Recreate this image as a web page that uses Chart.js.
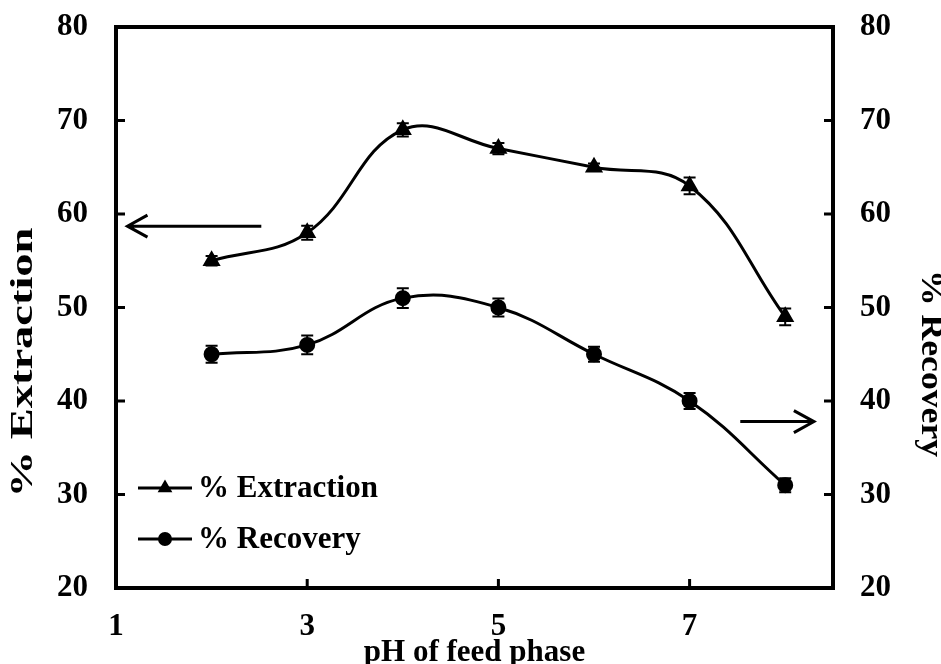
<!DOCTYPE html>
<html>
<head>
<meta charset="utf-8">
<title>pH of feed phase</title>
<script src="https://cdn.jsdelivr.net/npm/chart.js@4.4.1/dist/chart.umd.min.js"></script>
<style>
  html, body { margin: 0; padding: 0; background: #fff; }
  #wrap { width: 941px; height: 664px; }
</style>
</head>
<body>
<div id="wrap"><canvas id="phChart"></canvas></div>
<script>
// pH of feed phase vs. % extraction / % recovery
const phValues = [2, 3, 4, 5, 6, 7, 8];
const extraction = [55, 58, 69, 67, 65, 63, 49];
const extractionErr = [0.5, 0.75, 0.7, 0.6, 0.4, 0.9, 0.9];
const recovery = [45, 46, 51, 50, 45, 40, 31];
const recoveryErr = [0.9, 1.0, 1.05, 0.95, 0.8, 0.85, 0.75];
const xTicks = [1, 3, 5, 7];
const yTicks = [20, 30, 40, 50, 60, 70, 80];

const serif = '"Liberation Serif", "Times New Roman", serif';
const tickFont = { family: serif, size: 31, weight: 'bold' };

function toPoints(vals) {
  return vals.map((v, i) => ({ x: phValues[i], y: v }));
}

function arrow(ctx, x1, y1, x2, y2) {
  const dir = Math.sign(x2 - x1);
  ctx.beginPath();
  ctx.moveTo(x1, y1);
  ctx.lineTo(x2, y2);
  ctx.moveTo(x2 - dir * 20, y2 - 11);
  ctx.lineTo(x2, y2);
  ctx.lineTo(x2 - dir * 20, y2 + 11);
  ctx.stroke();
}

// vertical axis titles are drawn wide (stretched along the text direction)
function axisTitle(ctx, text, cx, cy, rot, stretch) {
  ctx.save();
  ctx.translate(cx, cy);
  ctx.rotate(rot);
  ctx.scale(stretch, 1);
  ctx.font = 'bold 31px ' + serif;
  ctx.textAlign = 'center';
  ctx.textBaseline = 'middle';
  ctx.fillStyle = '#000';
  ctx.fillText(text, 0, 0);
  ctx.restore();
}

// fixed axis box sizes so the plot frame lands in the same place
function fixY(width) {
  return s => {
    s.width = width;
    s.paddingTop = 0;
    s.paddingBottom = 0;
  };
}

// frame, inward ticks, error bars, arrows, axis titles and the inset legend
const extras = {
  id: 'extras',
  afterDatasetsDraw(chart) {
    const { ctx, chartArea: a, scales } = chart;
    const x = scales.x;
    ctx.save();
    ctx.strokeStyle = '#000';
    ctx.fillStyle = '#000';
    ctx.lineCap = 'butt';

    // error bars
    ctx.lineWidth = 2;
    chart.data.datasets.forEach(ds => {
      const yScale = scales[ds.yAxisID];
      ds.errors.forEach((e, i) => {
        const px = x.getPixelForValue(phValues[i]);
        const top = yScale.getPixelForValue(ds.data[i].y + e);
        const bot = yScale.getPixelForValue(ds.data[i].y - e);
        ctx.beginPath();
        ctx.moveTo(px, top); ctx.lineTo(px, bot);
        ctx.moveTo(px - 6, top); ctx.lineTo(px + 6, top);
        ctx.moveTo(px - 6, bot); ctx.lineTo(px + 6, bot);
        ctx.stroke();
      });
    });

    // frame
    ctx.lineWidth = 4;
    ctx.strokeRect(a.left, a.top, a.right - a.left, a.bottom - a.top);

    // tick marks pointing into the plot
    ctx.lineWidth = 3;
    ctx.beginPath();
    yTicks.forEach(v => {
      const py = scales.y.getPixelForValue(v);
      ctx.moveTo(a.left, py); ctx.lineTo(a.left + 9, py);
      const py2 = scales.y2.getPixelForValue(v);
      ctx.moveTo(a.right, py2); ctx.lineTo(a.right - 9, py2);
    });
    xTicks.forEach(v => {
      const px = x.getPixelForValue(v);
      ctx.moveTo(px, a.bottom); ctx.lineTo(px, a.bottom - 9);
    });
    ctx.stroke();

    // arrows pointing at each series' axis
    ctx.lineWidth = 3;
    const yL = scales.y.getPixelForValue(58.7);
    arrow(ctx, x.getPixelForValue(2.52), yL, x.getPixelForValue(1.12), yL);
    const yR = scales.y2.getPixelForValue(37.8);
    arrow(ctx, x.getPixelForValue(7.53), yR, x.getPixelForValue(8.3), yR);

    // axis titles
    const midY = (a.top + a.bottom) / 2;
    axisTitle(ctx, '% Extraction', 24, midY + 55, -Math.PI / 2, 1.5);
    axisTitle(ctx, '% Recovery', chart.width - 11, midY + 56, Math.PI / 2, 1.15);

    // legend
    const lx = a.left + 22;
    const rows = [
      { label: '% Extraction', style: 'triangle', y: a.bottom - 100 },
      { label: '% Recovery', style: 'circle', y: a.bottom - 49 }
    ];
    ctx.font = 'bold 31px ' + serif;
    ctx.textBaseline = 'middle';
    ctx.textAlign = 'left';
    rows.forEach(r => {
      ctx.lineWidth = 3;
      ctx.beginPath();
      ctx.moveTo(lx, r.y); ctx.lineTo(lx + 54, r.y);
      ctx.stroke();
      Chart.helpers.drawPoint(ctx, { pointStyle: r.style, radius: 5.5, borderWidth: 1 }, lx + 27, r.y);
      ctx.fill();
      ctx.fillText(r.label, lx + 60, r.y + 1);
    });
    ctx.restore();
  }
};

new Chart(document.getElementById('phChart'), {
  type: 'line',
  data: {
    datasets: [
      {
        label: '% Extraction',
        data: toPoints(extraction),
        errors: extractionErr,
        yAxisID: 'y',
        borderColor: '#000',
        backgroundColor: '#000',
        borderWidth: 3,
        pointStyle: 'triangle',
        pointRadius: 7.5,
        tension: 0.4
      },
      {
        label: '% Recovery',
        data: toPoints(recovery),
        errors: recoveryErr,
        yAxisID: 'y2',
        borderColor: '#000',
        backgroundColor: '#000',
        borderWidth: 3,
        pointStyle: 'circle',
        pointRadius: 6.5,
        tension: 0.4
      }
    ]
  },
  options: {
    responsive: true,
    maintainAspectRatio: false,
    animation: false,
    layout: { padding: { top: 27, left: 0, right: 0, bottom: 0 } },
    plugins: {
      legend: { display: false },
      tooltip: { enabled: false }
    },
    scales: {
      x: {
        type: 'linear',
        min: 1,
        max: 8.5,
        afterBuildTicks: s => { s.ticks = xTicks.map(v => ({ value: v })); },
        afterFit: s => { s.height = 76; },
        grid: { display: false, drawTicks: false },
        border: { display: false },
        ticks: { color: '#000', font: tickFont, padding: 20, maxRotation: 0 },
        title: {
          display: true,
          text: 'pH of feed phase',
          color: '#000',
          font: { family: serif, size: 31, weight: 'bold', lineHeight: 1 },
          padding: { top: 0, bottom: -4 }
        }
      },
      y: {
        position: 'left',
        min: 20,
        max: 80,
        afterBuildTicks: s => { s.ticks = yTicks.map(v => ({ value: v })); },
        afterFit: fixY(116),
        grid: { display: false, drawTicks: false },
        border: { display: false },
        ticks: { color: '#000', font: tickFont, padding: 28 }
      },
      y2: {
        position: 'right',
        min: 20,
        max: 80,
        afterBuildTicks: s => { s.ticks = yTicks.map(v => ({ value: v })); },
        afterFit: fixY(108),
        grid: { display: false, drawTicks: false },
        border: { display: false },
        ticks: { color: '#000', font: tickFont, padding: 27 }
      }
    }
  },
  plugins: [extras]
});
</script>
</body>
</html>
